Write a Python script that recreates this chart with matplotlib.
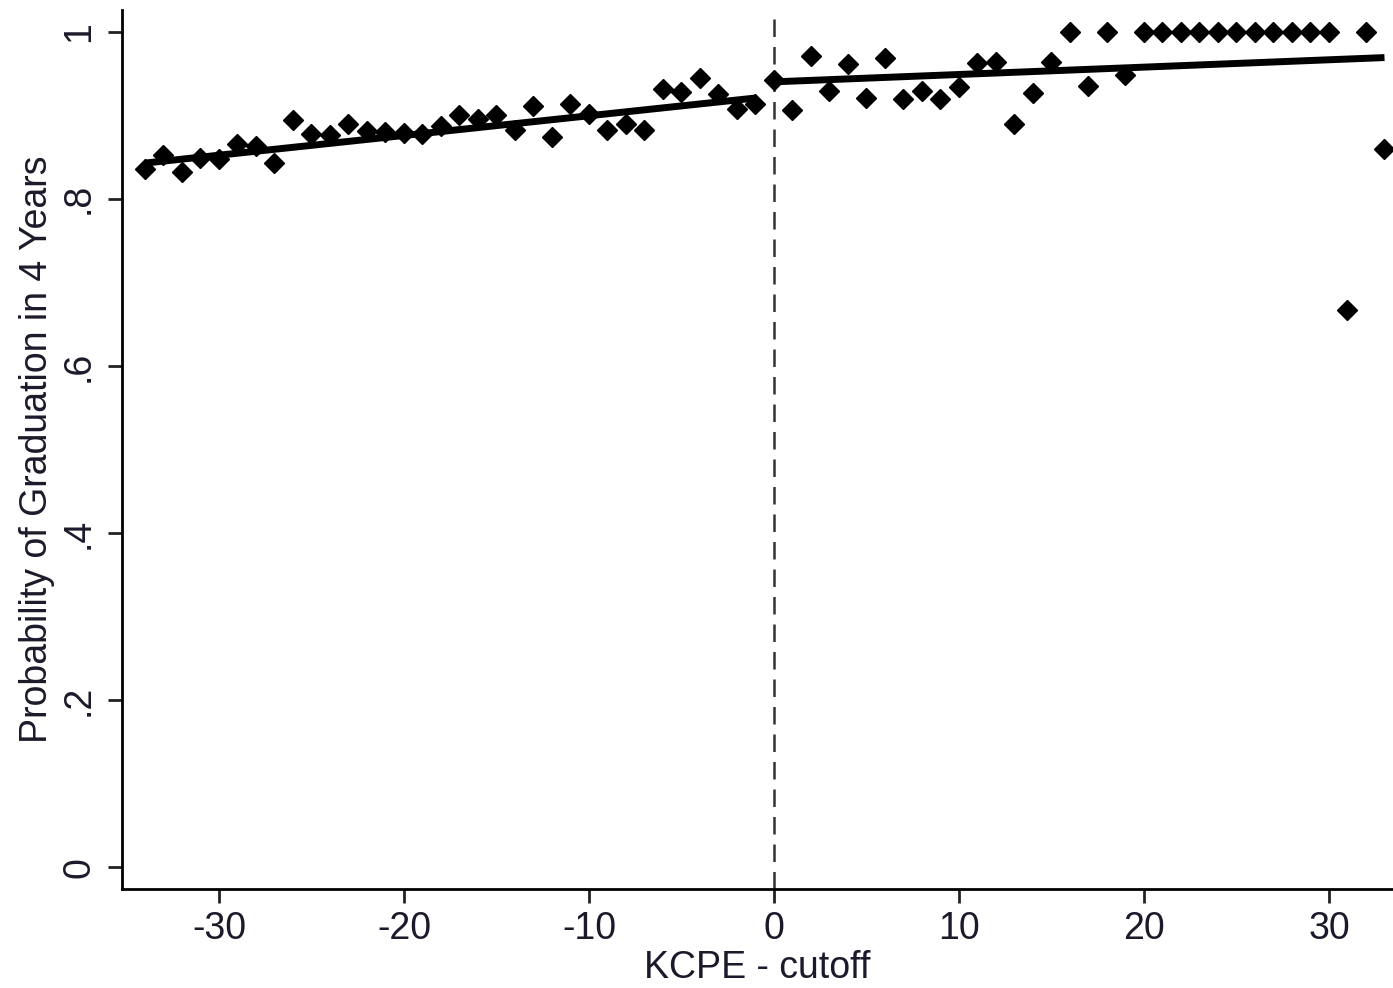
import matplotlib.pyplot as plt
import numpy as np

plt.rcParams['font.family'] = ['Liberation Sans', 'DejaVu Sans']

# binned means of graduation rate by distance to the cutoff
score_gap = list(range(-34, 34))
grad_rate = [
    0.836, 0.852, 0.832, 0.849, 0.848, 0.866, 0.863, 0.843, 0.894, 0.878,
    0.876, 0.889, 0.881, 0.880, 0.879, 0.877, 0.887, 0.900, 0.896, 0.900,
    0.882, 0.911, 0.874, 0.914, 0.901, 0.882, 0.890, 0.882, 0.932, 0.928,
    0.944, 0.925, 0.907, 0.914,
    0.942, 0.906, 0.971, 0.929, 0.961, 0.921, 0.968, 0.920, 0.929, 0.920,
    0.934, 0.962, 0.964, 0.890, 0.927, 0.964, 1.0, 0.935, 1.0, 0.948,
    1.0, 1.0, 1.0, 1.0, 1.0, 1.0, 1.0, 1.0, 1.0, 1.0,
    1.0, 0.667, 1.0, 0.860,
]

# linear fits on each side of the cutoff: (intercept at 0, slope)
fit_below = (0.923, 0.00236)
fit_above = (0.940, 0.00088)

xticks = [-30, -20, -10, 0, 10, 20, 30]
yticks = [0, 0.2, 0.4, 0.6, 0.8, 1.0]
ytick_labels = ["0", ".2", ".4", ".6", ".8", "1"]

fig = plt.figure(figsize=(13.93, 9.88), dpi=100)
ax = fig.add_axes([0.0876, 0.1002, 0.9124, 0.8897])

x = np.array(score_gap)
y = np.array(grad_rate)

ax.axvline(0, color='#333333', lw=1.8, ls=(0, (7, 4)), zorder=1)

ax.plot(x, y, ls='none', marker='D', ms=10.5, color='black', zorder=3)

xb = x[x < 0]
xa = x[x >= 0]
ax.plot(xb, fit_below[0] + fit_below[1] * xb, color='black', lw=5, zorder=2,
        solid_capstyle='butt')
ax.plot(xa, fit_above[0] + fit_above[1] * xa, color='black', lw=5, zorder=2,
        solid_capstyle='butt')

ax.set_xlim(-35.24, 33.46)
ax.set_ylim(-0.026, 1.026)

ax.spines['top'].set_visible(False)
ax.spines['right'].set_visible(False)
ax.spines['left'].set_linewidth(2)
ax.spines['bottom'].set_linewidth(2)

ax.set_xticks(xticks)
ax.set_xticklabels([str(t) for t in xticks])
ax.set_yticks(yticks)
ax.set_yticklabels(ytick_labels, rotation=90, va='center')
ax.tick_params(axis='both', length=10, width=2, labelsize=27,
               labelcolor='#1a1a2a', color='#222222', pad=8)
ax.tick_params(axis='x', pad=6)

ax.set_xlabel("KCPE - cutoff", fontsize=27, color='#1a1a2a', labelpad=2)
ax.set_ylabel("Probability of Graduation in 4 Years", fontsize=27,
              color='#1a1a2a', labelpad=4)

fig.savefig("out.png", dpi=100, facecolor='white')
